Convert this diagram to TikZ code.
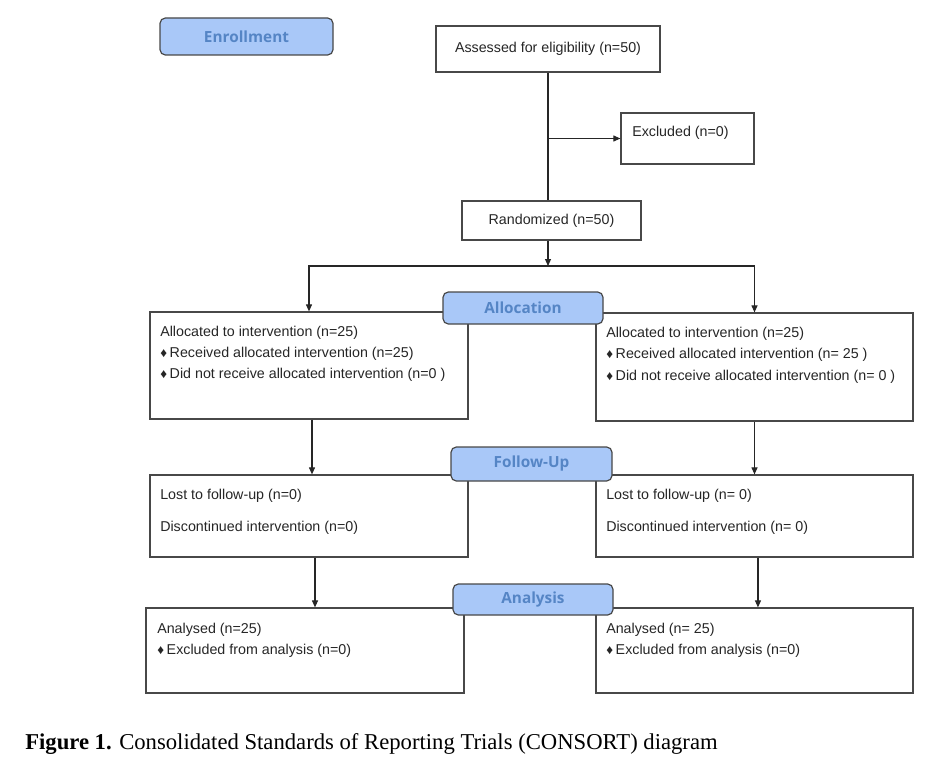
\documentclass[tikz,border=0pt]{standalone}
\usepackage{fontspec}
\setmainfont{Liberation Sans}
\newfontfamily\capfont{Liberation Serif}
\newfontfamily\labfont{Open Sans}
\usetikzlibrary{arrows.meta}
\definecolor{labfill}{HTML}{A9C8F8}
\definecolor{labtext}{HTML}{5585C5}
\definecolor{edgec}{HTML}{484848}
\definecolor{txtc}{HTML}{262626}
\newdimen\pxu \pxu=0.75pt
\begin{document}
\begin{tikzpicture}[x=0.75pt,y=-0.75pt,
  box/.style={draw=edgec, line width=0.9pt, fill=white, inner sep=0pt, text=txtc,
    font=\fontsize{10.7}{12}\selectfont},
  lab/.style={draw=edgec, line width=0.9pt, fill=labfill, rounded corners=4pt, inner sep=0pt,
    text=labtext, font=\labfont\bfseries\fontsize{11.5}{12}\selectfont},
  line/.style={draw=black!85, line width=0.8pt},
  arr/.style={line, -{Triangle[length=5.25pt,width=4.5pt]}},
  txt/.style={anchor=base west, inner sep=0pt, text=txtc, font=\fontsize{10.7}{12}\selectfont},
  captxt/.style={anchor=base west, inner sep=0pt, text=black, font=\capfont\fontsize{17}{19}\selectfont}]
\useasboundingbox (0,0) rectangle (942,763);
\newcommand{\dmd}{{\fontsize{10}{10}\selectfont ♦}\hspace{2pt}}

% boxes
\node[box, minimum width=224\pxu, minimum height=46\pxu] (assess) at (548,49) {Assessed for eligibility (n=50)};
\node[box, minimum width=133\pxu, minimum height=51\pxu] (excl) at (687.5,138.5) {};
\node[box, minimum width=179\pxu, minimum height=39\pxu] (rand) at (551.5,220.5) {Randomized (n=50)};
\node[box, minimum width=318\pxu, minimum height=107\pxu] (allocL) at (309,365.5) {};
\node[box, minimum width=317\pxu, minimum height=108\pxu] (allocR) at (754.5,367) {};
\node[box, minimum width=318\pxu, minimum height=82\pxu] (fuL) at (309,516) {};
\node[box, minimum width=317\pxu, minimum height=82\pxu] (fuR) at (754.5,516) {};
\node[box, minimum width=318\pxu, minimum height=85\pxu] (anL) at (305,650.5) {};
\node[box, minimum width=317\pxu, minimum height=85\pxu] (anR) at (754.5,650.5) {};

% texts
\node[txt] (exclT) at (632,137) {Excluded (n=0)};
\node[txt] (aL1) at (160,336) {Allocated to intervention (n=25)};
\node[txt] (aL2) at (160,357) {\dmd Received allocated intervention (n=25)};
\node[txt] (aL3) at (160,378) {\dmd Did not receive allocated intervention (n=0 )};
\node[txt] (aR1) at (606,337) {Allocated to intervention (n=25)};
\node[txt] (aR2) at (606,358) {\dmd Received allocated intervention (n= 25 )};
\node[txt] (aR3) at (606,380) {\dmd Did not receive allocated intervention (n= 0 )};
\node[txt] (fL1) at (160,499) {Lost to follow-up (n=0)};
\node[txt] (fL2) at (160,531) {Discontinued intervention (n=0)};
\node[txt] (fR1) at (606,499) {Lost to follow-up (n= 0)};
\node[txt] (fR2) at (606,531) {Discontinued intervention (n= 0)};
\node[txt] (nL1) at (157,633) {Analysed (n=25)};
\node[txt] (nL2) at (157,654) {\dmd Excluded from analysis (n=0)};
\node[txt] (nR1) at (606,633) {Analysed (n= 25)};
\node[txt] (nR2) at (606,654) {\dmd Excluded from analysis (n=0)};

% connectors
\draw[line] (assess.south) -- (assess.south |- rand.north);
\draw[arr] (assess.south |- excl.west) -- (excl.west);
\coordinate (split) at (548,266);
\draw[arr] (split |- rand.south) -- (split);
\draw[arr] (split) -| (allocL.north);
\draw[arr] (split) -| (allocR.north);
\coordinate (aLs) at ([xshift=2.25pt]allocL.south);
\draw[arr] (aLs) -- (aLs |- fuL.north);
\draw[arr] (allocR.south) -- (fuR.north);
\coordinate (fLs) at ([xshift=4.5pt]fuL.south);
\draw[arr] (fLs) -- (fLs |- anL.north);
\coordinate (fRs) at ([xshift=2.6pt]fuR.south);
\draw[arr] (fRs) -- (fRs |- anR.north);

% section labels
\node[lab, minimum width=173\pxu, minimum height=37\pxu] (enroll) at (246.5,36.5) {Enrollment};
\node[lab, minimum width=160\pxu, minimum height=32\pxu] (alloc) at (523,308) {Allocation};
\node[lab, minimum width=161\pxu, minimum height=34\pxu] (fu) at (531.5,464) {Follow-Up};
\node[lab, minimum width=160\pxu, minimum height=31\pxu] (an) at (533,599.5) {Analysis};

% caption
\node[captxt] (caption) at (25,749) {\textbf{Figure 1.} Consolidated Standards of Reporting Trials (CONSORT) diagram};
\end{tikzpicture}
\end{document}
